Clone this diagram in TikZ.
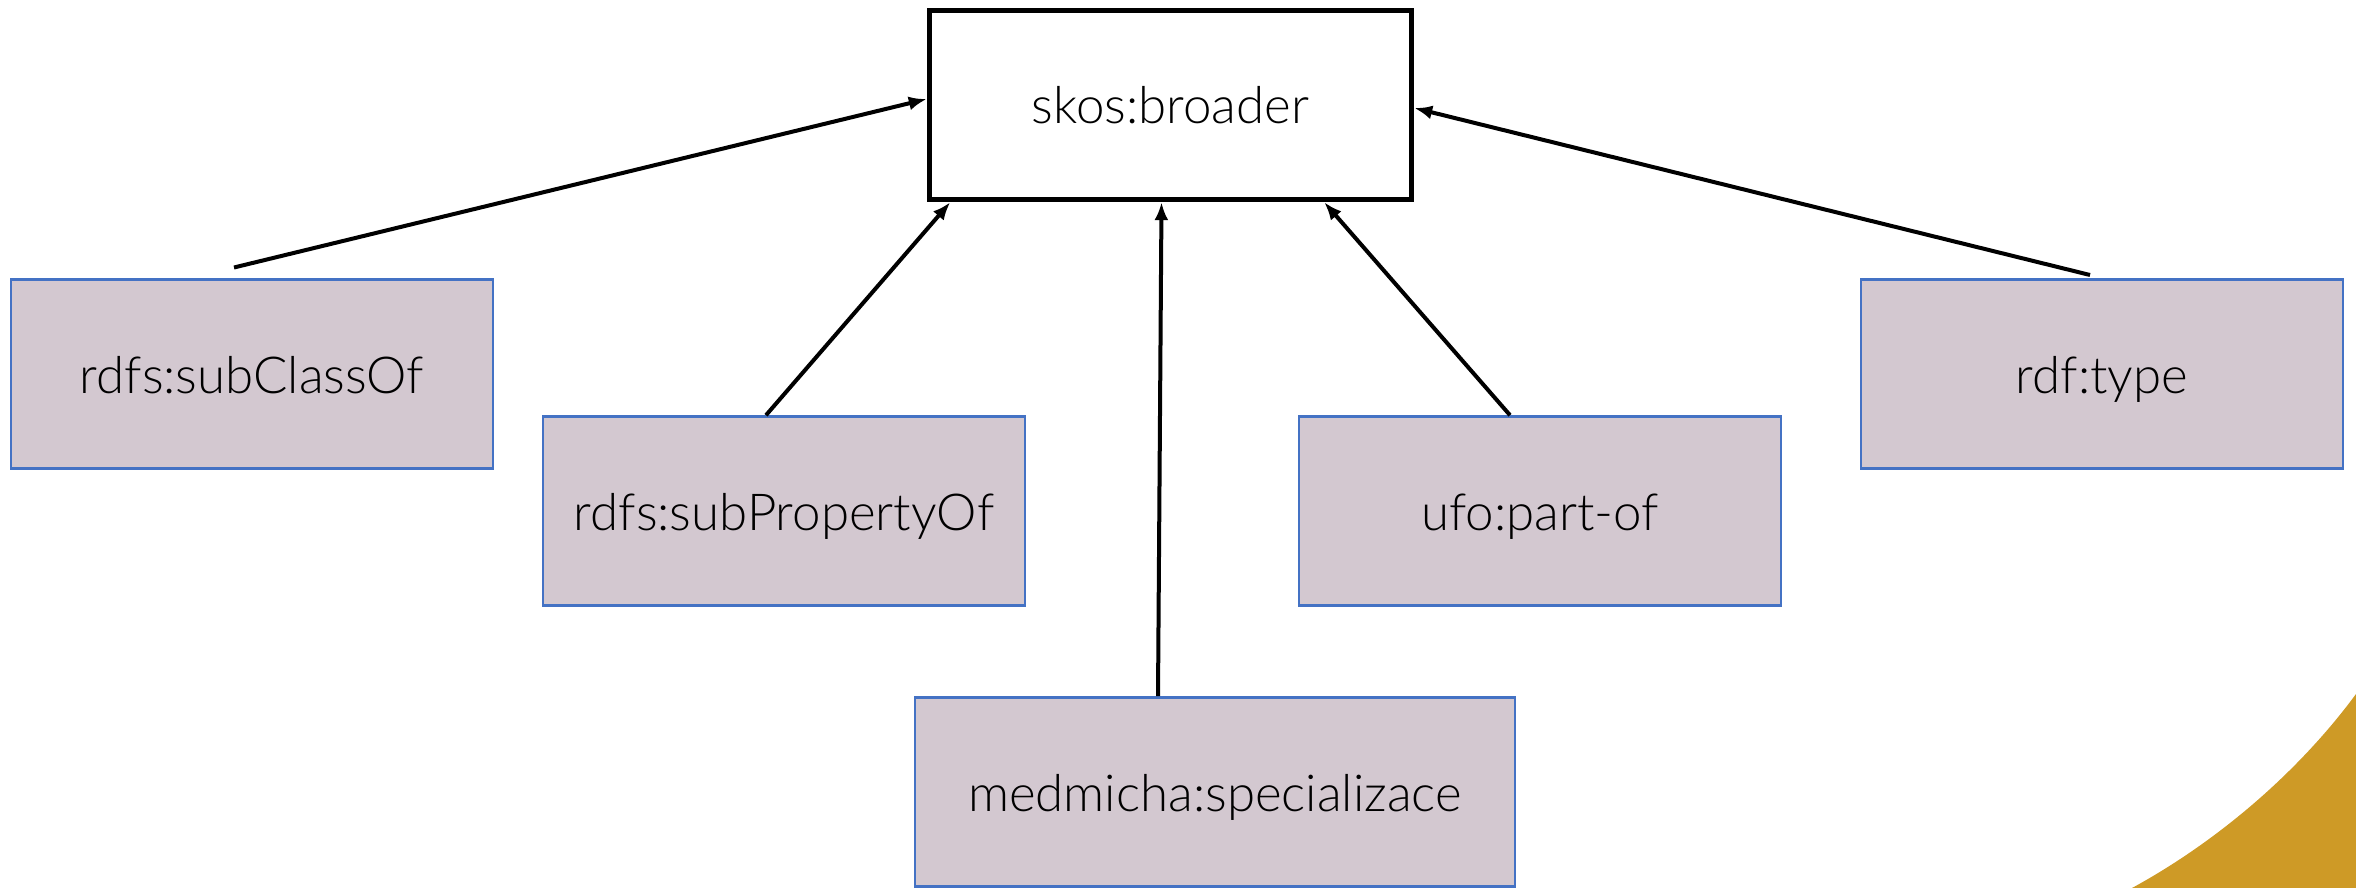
\documentclass[tikz,border=0pt]{standalone}
\usepackage{fontspec}
\setmainfont{Lato Light}
\usepackage{tikz}
\usetikzlibrary{calc}
\usetikzlibrary{arrows.meta}
\usetikzlibrary{positioning}
\definecolor{boxfill}{RGB}{211,200,208}
\definecolor{boxline}{RGB}{68,114,196}
\definecolor{gold}{RGB}{206,154,38}
\tikzset{>=latex}
\tikzstyle{prop} = [rectangle, draw = boxline, line width = 1.3pt, fill = boxfill, minimum width = 241pt, minimum height = 94.5pt, inner sep = 0, text height = 19.5pt, text depth = .5pt, font = \fontsize{25.5}{30}\selectfont]
\tikzstyle{broad} = [rectangle, draw = black, line width = 2.7pt, fill = white, minimum width = 241pt, minimum height = 94.5pt, inner sep = 0, text height = 19.5pt, text depth = .5pt, font = \fontsize{25.5}{30}\selectfont]
\tikzstyle{link} = [-{Latex[length = 9pt, width = 7pt]}, line width = 2pt]

\begin{document}
\begin{tikzpicture}[x = .5pt, y = -.5pt]
\useasboundingbox (0, 0) rectangle (2356, 888);
% corner decoration
\fill [gold] (2356, 694) .. controls (2300, 770) and (2220, 840) .. (2132, 888) -- (2356, 888) -- cycle;
\node [broad] (B) at (1170.5, 105) {skos:broader};
\node [prop] (SC) at (252, 374) {rdfs:subClassOf};
\node [prop] (SP) at (784, 511) {rdfs:subPropertyOf};
\node [prop, minimum width = 300pt] (MS) at (1215, 792) {medmicha:specializace};
\node [prop] (PO) at (1540, 511) {ufo:part-of};
\node [prop] (RT) at (2102, 374) {rdf:type};
\coordinate (SCt) at (234, 267.5);
\coordinate (RTt) at (2090, 275);
\draw [link] (SCt) -- ([yshift = 3pt] B.west);
\draw [link] ([xshift = -9pt] SP.north) -- ([xshift = 11.75pt] B.south west);
\draw [link] ([xshift = -28.5pt] MS.north) -- ([xshift = -4.5pt] B.south);
\draw [link] ([xshift = -15pt] PO.north) -- ([xshift = -45pt] B.south east);
\draw [link] (RTt) -- ([yshift = -1.5pt] B.east);
\end{tikzpicture}
\end{document}
